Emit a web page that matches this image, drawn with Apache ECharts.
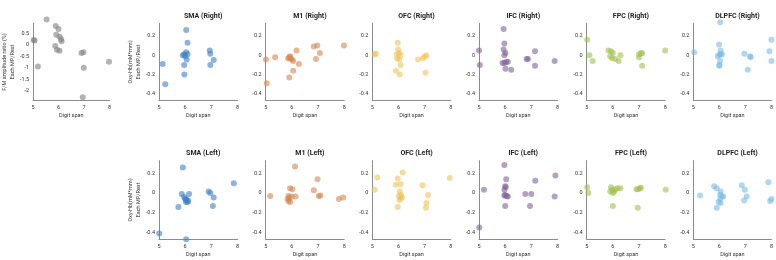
<!DOCTYPE html>
<html><head><meta charset="utf-8">
<script src="https://cdn.jsdelivr.net/npm/echarts@6/dist/echarts.min.js"></script>
<style>html,body{margin:0;padding:0;background:#fff}#c{width:776px;height:260px}</style>
</head><body><div id="c"></div>
<script>
// ---- data ----
const xTicks = [5, 6, 7, 8];
const ratioTicks = [-2, -1.5, -1, -0.5, 0, 0.5];
const hbTicks = [-0.4, -0.2, 0, 0.2];
const regions = ['SMA', 'M1', 'OFC', 'IFC', 'FPC', 'DLPFC'];

const ratioPoints = [[5.02,0.2],[5.06,0.18],[5.53,1.09],[5.19,-0.94],[5.89,0.81],[6.0,0.68],[5.91,0.43],[6.04,0.35],[6.1,0.24],[6.12,0.15],[5.87,-0.05],[5.94,-0.22],[6.04,-0.26],[6.9,-0.36],[6.98,-0.33],[6.99,-1.0],[6.95,-2.28],[7.98,-0.74]];

const smaRight = [[6.04,0.26],[6.09,0.13],[5.14,-0.09],[5.24,-0.30],[5.91,0.0],[5.96,0.01],[6.04,0.03],[6.09,0.01],[6.0,-0.01],[6.06,-0.045],[5.96,-0.10],[5.97,-0.20],[6.94,0.05],[6.96,0.014],[7.09,-0.05],[6.96,-0.10]];
const m1Right = [[5.01,-0.045],[5.04,-0.29],[5.36,-0.02],[5.9,-0.02],[5.95,-0.03],[5.86,-0.035],[6.0,-0.045],[6.05,-0.06],[5.93,-0.01],[6.18,0.05],[6.27,-0.09],[6.05,-0.16],[5.9,-0.23],[6.84,0.09],[6.97,0.10],[7.07,0.024],[6.92,-0.04],[7.99,0.10]];
const ofcRight = [[5.09,0.007],[5.14,0.014],[5.97,0.13],[5.99,0.06],[5.93,0.007],[6.03,0.024],[5.95,-0.03],[6.03,-0.045],[6.08,0.0],[6.08,-0.10],[5.9,-0.16],[6.05,-0.20],[6.75,-0.045],[6.94,-0.03],[7.0,-0.01],[7.07,-0.003],[7.03,-0.18]];
const ifcRight = [[5.0,0.05],[5.03,-0.10],[5.94,0.27],[5.97,0.12],[5.94,0.06],[6.01,0.024],[5.97,0.0],[5.9,-0.08],[5.97,-0.08],[6.04,-0.07],[6.1,-0.068],[6.01,-0.14],[6.23,-0.15],[6.82,-0.04],[6.87,-0.04],[7.14,0.04],[7.14,-0.11],[7.89,-0.06]];
const fpcRight = [[5.02,0.16],[5.1,0.0],[5.23,-0.06],[5.83,0.05],[5.93,0.04],[6.0,0.024],[5.9,-0.01],[5.97,-0.03],[6.09,-0.04],[6.22,-0.06],[6.29,0.0],[7.0,0.01],[7.08,0.024],[7.12,0.02],[7.0,-0.02],[7.12,-0.11],[8.0,0.05]];
const dlpfcRight = [[5.03,0.03],[6.03,0.34],[5.99,0.11],[6.05,0.05],[6.05,0.01],[6.1,0.01],[6.0,0.005],[5.94,-0.01],[6.03,-0.06],[6.0,-0.10],[6.0,-0.11],[6.96,0.014],[7.18,-0.01],[7.2,-0.02],[7.09,-0.15],[8.0,0.16],[7.92,0.04],[8.0,-0.06]];

const smaLeft = [[5.91,0.26],[5.01,-0.41],[6.04,-0.47],[5.74,-0.14],[5.87,-0.01],[5.96,-0.04],[6.03,-0.06],[6.06,-0.07],[6.09,-0.09],[6.12,-0.08],[6.03,-0.09],[6.0,-0.06],[6.15,-0.01],[6.9,0.017],[6.96,0.0],[7.09,-0.045],[7.06,-0.13],[7.86,0.10]];
const m1Left = [[5.17,-0.03],[6.12,0.27],[5.93,0.05],[6.02,0.04],[5.87,-0.03],[5.9,-0.05],[5.84,-0.06],[5.87,-0.08],[5.93,-0.09],[5.99,-0.035],[6.14,-0.035],[6.98,0.14],[6.84,0.03],[7.03,-0.03],[7.09,-0.025],[7.8,-0.06],[7.96,-0.045]];
const ofcLeft = [[5.19,0.16],[5.09,0.034],[6.16,0.21],[5.97,0.15],[5.9,0.086],[6.08,0.09],[6.05,0.017],[6.02,-0.03],[6.07,-0.05],[6.1,-0.02],[6.04,-0.07],[6.13,-0.045],[5.97,-0.14],[6.92,0.08],[7.13,-0.02],[7.07,-0.10],[7.05,-0.15],[7.96,0.155]];
const ifcLeft = [[5.01,-0.35],[5.19,0.034],[5.97,0.285],[6.04,0.14],[6.0,0.07],[6.02,0.06],[5.97,0.034],[6.0,-0.02],[6.06,-0.03],[6.1,-0.035],[5.97,-0.024],[6.0,-0.13],[6.77,-0.01],[7.0,-0.01],[7.15,0.127],[6.95,-0.13],[7.92,0.18],[7.89,-0.034]];
const fpcLeft = [[5.02,0.06],[5.06,0.0],[5.93,0.06],[5.97,0.034],[5.9,0.017],[6.0,0.0],[6.05,0.017],[6.09,0.04],[6.18,0.05],[6.0,-0.13],[6.29,0.05],[6.9,0.04],[6.97,0.04],[7.03,0.05],[7.07,0.055],[6.95,-0.15],[8.02,0.034]];
const dlpfcLeft = [[5.26,-0.024],[5.8,0.07],[5.9,0.05],[6.05,0.017],[6.03,-0.017],[6.09,-0.034],[6.15,-0.034],[6.03,-0.06],[5.97,-0.09],[6.05,-0.10],[5.9,-0.15],[6.86,0.08],[6.98,0.034],[7.05,-0.034],[6.95,-0.075],[7.88,0.11],[7.95,-0.08],[8.0,-0.06]];

// ---- style / layout ----
const colors = ['#3f7fc6', '#d58550', '#efc35c', '#82639a', '#a2bf4f', '#7bbbe6'];
const rightData = [smaRight, m1Right, ofcRight, ifcRight, fpcRight, dlpfcRight];
const leftData = [smaLeft, m1Left, ofcLeft, ifcLeft, fpcLeft, dlpfcLeft];
const FONT = 'Roboto';
const grids = [], xAxes = [], yAxes = [], series = [], titles = [];
const W = 78.5;
const lefts = [31, 159, 265.7, 372.3, 479, 586.7, 693.3];

function addPanel(left, top, h, yMin, yMax, yt, data, color, yName, nameGap) {
  const i = grids.length;
  grids.push({left: left, top: top, width: W, height: h});
  xAxes.push({type: 'value', gridIndex: i, min: 5, max: 8, interval: 1,
    name: 'Digit span', nameLocation: 'middle', nameGap: 12,
    nameTextStyle: {fontSize: 5.5, color: '#333', fontFamily: FONT},
    axisLine: {show: true, onZero: false, lineStyle: {color: '#8c8c8c', width: 1}},
    axisTick: {show: false}, splitLine: {show: false},
    axisLabel: {fontSize: 5.5, color: '#333', margin: 4, fontFamily: FONT,
      customValues: xTicks}});
  yAxes.push({type: 'value', gridIndex: i, min: yMin, max: yMax,
    name: yName, nameLocation: 'middle', nameGap: nameGap, nameRotate: 90,
    nameTextStyle: {fontSize: 5.5, color: '#333', fontFamily: FONT, lineHeight: 7.5},
    axisLine: {show: true, onZero: false, lineStyle: {color: '#8c8c8c', width: 1}},
    axisTick: {show: false}, splitLine: {show: false},
    axisLabel: {fontSize: 5.5, color: '#333', margin: 4, fontFamily: FONT,
      customValues: yt, formatter: v => String(Math.round(v * 10) / 10)}});
  series.push({type: 'scatter', xAxisIndex: i, yAxisIndex: i, data: data,
    symbolSize: 6, clip: false,
    itemStyle: {color: color, opacity: 0.6}});
}

const topTop = 23.3, topH = 77.4, botTop = 160.7, botH = 78.6;
addPanel(lefts[0], topTop, topH, -2.43, 0.93, ratioTicks, ratioPoints, '#808080',
  'F/M amplitude ratio (%)\nEach MP/Rest', 13);
for (let k = 0; k < 6; k++) {
  addPanel(lefts[k + 1], topTop, topH, -0.47, 0.33, hbTicks, rightData[k], colors[k],
    k === 0 ? 'Oxy-Hb(mM*mm)\nEach MP/Rest' : '', 16);
  titles.push({text: regions[k] + ' (Right)', left: lefts[k + 1] + W / 2, top: 8,
    textAlign: 'center',
    textStyle: {fontSize: 7, fontWeight: 'bold', color: '#222', fontFamily: FONT}});
}
for (let k = 0; k < 6; k++) {
  addPanel(lefts[k + 1], botTop, botH, -0.47, 0.33, hbTicks, leftData[k], colors[k],
    k === 0 ? 'Oxy-Hb(mM*mm)\nEach MP/Rest' : '', 16);
  titles.push({text: regions[k] + ' (Left)', left: lefts[k + 1] + W / 2, top: 145,
    textAlign: 'center',
    textStyle: {fontSize: 7, fontWeight: 'bold', color: '#222', fontFamily: FONT}});
}

const chart = echarts.init(document.getElementById('c'), null, {renderer: 'canvas'});
chart.setOption({
  animation: false,
  backgroundColor: '#fff',
  title: titles,
  grid: grids, xAxis: xAxes, yAxis: yAxes, series: series
});
</script></body></html>
